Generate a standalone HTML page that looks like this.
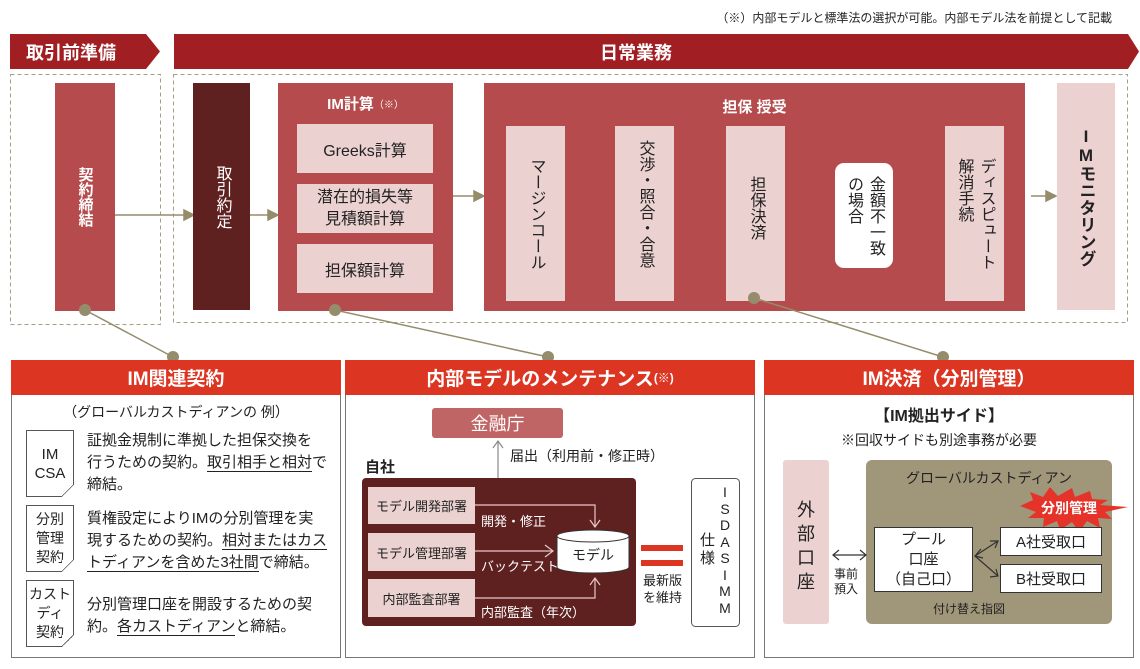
<!DOCTYPE html>
<html><head><meta charset="utf-8"><style>
*{margin:0;padding:0;box-sizing:border-box}
body{width:1140px;height:669px;background:#fff;position:relative;overflow:hidden;font-family:"Liberation Sans","Noto Sans CJK JP",sans-serif;color:#222}
.a{position:absolute}
.v{writing-mode:vertical-rl;text-orientation:upright;display:flex;align-items:center;justify-content:center}
.pk{background:#ecd1d1}
.c{display:flex;align-items:center;justify-content:center;text-align:center}
.hd{background:#dc3522;color:#fff;font-weight:bold;font-size:19px;height:35px}
.pn{border:1px solid #777;border-top:none}
.doc{border:1px solid #555;background:#fff;font-size:14px;line-height:19px}
.fold{position:absolute;right:-1px;bottom:-1px;width:12px;height:12px;background:linear-gradient(135deg,#fff 0,#fff 45%,#555 45%,#555 52%,#fff 52%)}
.fold:after{content:"";position:absolute;right:0;bottom:0;width:12px;height:12px;background:linear-gradient(135deg,transparent 50%,#fff 50%)}
.t{font-size:15px;line-height:22px}
u{text-decoration:none;border-bottom:1.5px solid #222}
</style></head><body>
<div class="a" style="right:28px;top:9px;font-size:12px">（※）内部モデルと標準法の選択が可能。内部モデル法を前提として記載</div>
<svg class="a" style="left:0;top:0" width="1140" height="669">
<polygon points="10,34 146,34 160,51.5 146,69 10,69" fill="#a11f22"/>
<polygon points="174,34 1128,34 1139,51.5 1128,69 174,69" fill="#a11f22"/>
<rect x="10.5" y="74.5" width="150" height="250" fill="none" stroke="#a89f82" stroke-dasharray="4,3"/>
<rect x="173.5" y="74.5" width="954" height="248" fill="none" stroke="#a89f82" stroke-dasharray="4,3"/>
<g stroke="#958c6c" stroke-width="1.5" fill="#958c6c">
<line x1="105" y1="215" x2="186" y2="215"/><polygon points="184,210 194,215 184,220"/>
<line x1="250" y1="215" x2="270" y2="215"/><polygon points="268,210 278,215 268,220"/>
<line x1="453" y1="196" x2="476" y2="196"/><polygon points="474,191 484,196 474,201"/>
<line x1="565" y1="210" x2="606" y2="210"/><polygon points="604,205 614,210 604,215"/>
<line x1="674" y1="210" x2="717" y2="210"/><polygon points="715,205 725,210 715,215"/>
<line x1="785" y1="210" x2="826" y2="210"/><polygon points="824,205 834,210 824,215"/>
<line x1="898" y1="210" x2="936" y2="210"/><polygon points="934,205 944,210 934,215"/>
<line x1="1031" y1="196" x2="1048" y2="196"/><polygon points="1046,191 1056,196 1046,201"/>
</g>
</svg>
<div class="a c" style="left:26px;top:36px;height:31px;color:#fff;font-weight:bold;font-size:18px">取引前準備</div>
<div class="a c" style="left:600px;top:36px;height:31px;color:#fff;font-weight:bold;font-size:18px">日常業務</div>

<div class="a v" style="left:55px;top:83px;width:60px;height:228px;background:#b54b4c;color:#fff;font-weight:bold;font-size:15px">契約締結</div>
<div class="a v" style="left:193px;top:83px;width:57px;height:227px;background:#5f2020;color:#fff;font-size:16px">取引約定</div>
<div class="a" style="left:278px;top:83px;width:175px;height:228px;background:#b54b4c"></div>
<div class="a c" style="left:278px;top:93px;width:175px;color:#fff;font-weight:bold;font-size:15px">IM計算<span style="font-size:10px;font-weight:normal;vertical-align:top">（※）</span></div>
<div class="a c pk" style="left:297px;top:124px;width:136px;height:49px;font-size:16px">Greeks計算</div>
<div class="a c pk" style="left:297px;top:184px;width:136px;height:49px;font-size:16px;line-height:22px">潜在的損失等<br>見積額計算</div>
<div class="a c pk" style="left:297px;top:244px;width:136px;height:49px;font-size:16px">担保額計算</div>

<div class="a" style="left:484px;top:83px;width:541px;height:228px;background:#b54b4c"></div>
<div class="a c" style="left:484px;top:96px;width:541px;color:#fff;font-weight:bold;font-size:15px">担保 授受</div>
<div class="a v pk" style="left:506px;top:126px;width:59px;height:175px;font-size:16px">マージンコール</div>
<div class="a v pk" style="left:615px;top:126px;width:59px;height:175px;font-size:16px;justify-content:flex-start;padding-top:14px">交渉・照合・合意</div>
<div class="a v pk" style="left:726px;top:126px;width:59px;height:175px;font-size:16px;justify-content:flex-start;padding-top:50px">担保決済</div>
<div class="a v" style="left:835px;top:163px;width:58px;height:105px;background:#fff;border-radius:9px;font-size:16px;line-height:22px">金額不一致<br>の場合</div>
<div class="a v pk" style="left:945px;top:126px;width:59px;height:175px;font-size:16px;line-height:22px">ディスピュート<br>解消手続</div>
<div class="a v pk" style="left:1057px;top:83px;width:58px;height:227px;font-size:17px;font-weight:bold">IMモニタリング</div>
<svg class="a" style="left:0;top:0" width="1140" height="669">
<g stroke="#958c6c" stroke-width="1.5">
<line x1="85" y1="310" x2="173" y2="357"/>
<line x1="335" y1="310" x2="548" y2="357"/>
<line x1="754" y1="298" x2="943" y2="357"/>
</g>
<g fill="#958c6c"><circle cx="85" cy="310" r="6"/><circle cx="335" cy="310" r="6"/><circle cx="754" cy="298" r="6"/><circle cx="173" cy="357" r="6"/><circle cx="548" cy="357" r="6"/><circle cx="943" cy="357" r="6"/></g>
</svg>

<!-- Panel 1 -->
<div class="a pn" style="left:11px;top:360px;width:330px;height:298px"></div>
<div class="a c hd" style="left:11px;top:360px;width:330px">IM関連契約</div>
<div class="a c" style="left:11px;top:402px;width:330px;font-size:14px">（グローバルカストディアンの 例）</div>
<div class="a c doc" style="left:26px;top:430px;width:48px;height:67px;font-size:15px">IM<br>CSA<div class="fold"></div></div>
<div class="a c doc" style="left:26px;top:505px;width:48px;height:67px">分別<br>管理<br>契約<div class="fold"></div></div>
<div class="a c doc" style="left:26px;top:580px;width:48px;height:67px">カスト<br>ディ<br>契約<div class="fold"></div></div>
<div class="a t" style="left:87px;top:430px;width:250px">証拠金規制に準拠した担保交換を<br>行うための契約。<u>取引相手と相対</u>で<br>締結。</div>
<div class="a t" style="left:87px;top:508px;width:250px">質権設定によりIMの分別管理を実<br>現するための契約。<u>相対またはカス</u><br><u>トディアンを含めた3社間</u>で締結。</div>
<div class="a t" style="left:87px;top:594px;width:250px">分別管理口座を開設するための契<br>約。<u>各カストディアン</u>と締結。</div>

<!-- Panel 2 -->
<div class="a pn" style="left:345px;top:360px;width:410px;height:298px"></div>
<div class="a c hd" style="left:345px;top:360px;width:410px">内部モデルのメンテナンス<span style="font-size:12px;vertical-align:top">(※)</span></div>
<div class="a c" style="left:432px;top:408px;width:131px;height:30px;background:#c06565;color:#fff;font-size:18px;border-radius:3px">金融庁</div>
<div class="a" style="left:510px;top:446px;font-size:14px">届出（利用前・修正時）</div>
<div class="a" style="left:365px;top:456px;font-size:15px;font-weight:bold">自社</div>
<div class="a" style="left:362px;top:478px;width:274px;height:148px;background:#5f2020;border-radius:4px"></div>
<div class="a c pk" style="left:368px;top:487px;width:107px;height:37px;font-size:13px">モデル開発部署</div>
<div class="a c pk" style="left:368px;top:533px;width:107px;height:38px;font-size:13px">モデル管理部署</div>
<div class="a c pk" style="left:368px;top:579px;width:107px;height:38px;font-size:13px">内部監査部署</div>
<div class="a" style="left:481px;top:511px;color:#fff;font-size:13px">開発・修正</div>
<div class="a" style="left:481px;top:556px;color:#fff;font-size:13px">バックテスト</div>
<div class="a" style="left:481px;top:602px;color:#fff;font-size:13px">内部監査（年次）</div>
<svg class="a" style="left:0;top:0" width="1140" height="669">
<g stroke="#e8c8c8" stroke-width="1.2" fill="none">
<polyline points="475,505 595,505 595,527"/><polyline points="590,520 595,527 600,520"/>
<line x1="475" y1="551" x2="553" y2="551"/><polyline points="545,545 553,551 545,557"/>
<polyline points="475,598 595,598 595,578"/><polyline points="590,585 595,578 600,585"/>
</g>
<g stroke="#888" stroke-width="1.2" fill="none"><line x1="498" y1="478" x2="498" y2="441"/><polyline points="493,448 498,441 503,448"/></g>
<path d="M557,536 v31 a36,6 0 0 0 72,0 v-31" fill="#fff" stroke="#333"/>
<ellipse cx="593" cy="536" rx="36" ry="6" fill="#fff" stroke="#333"/>
<rect x="641" y="545" width="42" height="6" fill="#dc3522"/><rect x="641" y="560" width="42" height="6" fill="#dc3522"/>
<rect x="691.5" y="478.5" width="48" height="148" rx="4" fill="#fff" stroke="#555"/>
</svg>
<div class="a c" style="left:557px;top:544px;width:72px;height:22px;font-size:14px">モデル</div>
<div class="a" style="left:643px;top:572px;font-size:13px;line-height:17px">最新版<br>を維持</div>
<div class="a" style="left:700px;top:532px;font-size:15px;line-height:18px;width:16px">仕<br>様</div>
<div class="a" style="left:718px;top:484px;font-size:14px;line-height:16.5px;width:14px;text-align:center">I<br>S<br>D<br>A<br>S<br>I<br>M<br>M</div>

<!-- Panel 3 -->
<div class="a pn" style="left:764px;top:360px;width:370px;height:298px"></div>
<div class="a c hd" style="left:764px;top:360px;width:370px">IM決済（分別管理）</div>
<div class="a c" style="left:764px;top:402px;width:350px;font-size:16px;font-weight:bold">【IM拠出サイド】</div>
<div class="a c" style="left:764px;top:430px;width:350px;font-size:14px">※回収サイドも別途事務が必要</div>
<div class="a" style="left:783px;top:460px;width:46px;height:164px;background:#ecd1d1;border-radius:3px"></div>
<div class="a" style="left:783px;top:498px;width:46px;text-align:center;font-size:18px;line-height:24px">外<br>部<br>口<br>座</div>
<div class="a" style="left:866px;top:460px;width:246px;height:164px;background:#a09679;border-radius:6px"></div>
<div class="a c" style="left:866px;top:468px;width:246px;font-size:14px;color:#222">グローバルカストディアン</div>
<svg class="a" style="left:0;top:0" width="1140" height="669">
<polygon fill="#e5332a" points="1020,506 1033,500 1030,492 1043,497 1050,487 1058,496 1072,488 1075,497 1090,491 1092,499 1108,500 1100,505 1128,507 1105,512 1112,519 1098,518 1100,528 1087,521 1079,532 1072,522 1060,530 1057,521 1043,527 1044,518 1028,518 1036,512"/>
<g stroke="#333" stroke-width="1.2" fill="none">
<line x1="833" y1="555" x2="866" y2="555"/><polyline points="839,550 833,555 839,560"/><polyline points="860,550 866,555 860,560"/>
<line x1="975" y1="556" x2="998" y2="541"/><polyline points="990,541 998,541 995,548"/>
<line x1="975" y1="556" x2="998" y2="576"/><polyline points="990,577 998,576 996,569"/>
<polyline points="981,549 975,556 983,558"/>
</g>
</svg>
<div class="a c" style="left:1034px;top:498px;width:70px;color:#fff;font-weight:bold;font-size:14px">分別管理</div>
<div class="a c" style="left:874px;top:527px;width:99px;height:65px;background:#fff;border:1px solid #333;font-size:15px;line-height:20px">プール<br>口座<br>（自己口）</div>
<div class="a c" style="left:1000px;top:527px;width:102px;height:29px;background:#fff;border:1px solid #333;font-size:15px">A社受取口</div>
<div class="a c" style="left:1000px;top:564px;width:102px;height:29px;background:#fff;border:1px solid #333;font-size:15px">B社受取口</div>
<div class="a" style="left:834px;top:567px;font-size:12px;line-height:15px">事前<br>預入</div>
<div class="a c" style="left:866px;top:600px;width:206px;font-size:12px">付け替え指図</div>
</body></html>
